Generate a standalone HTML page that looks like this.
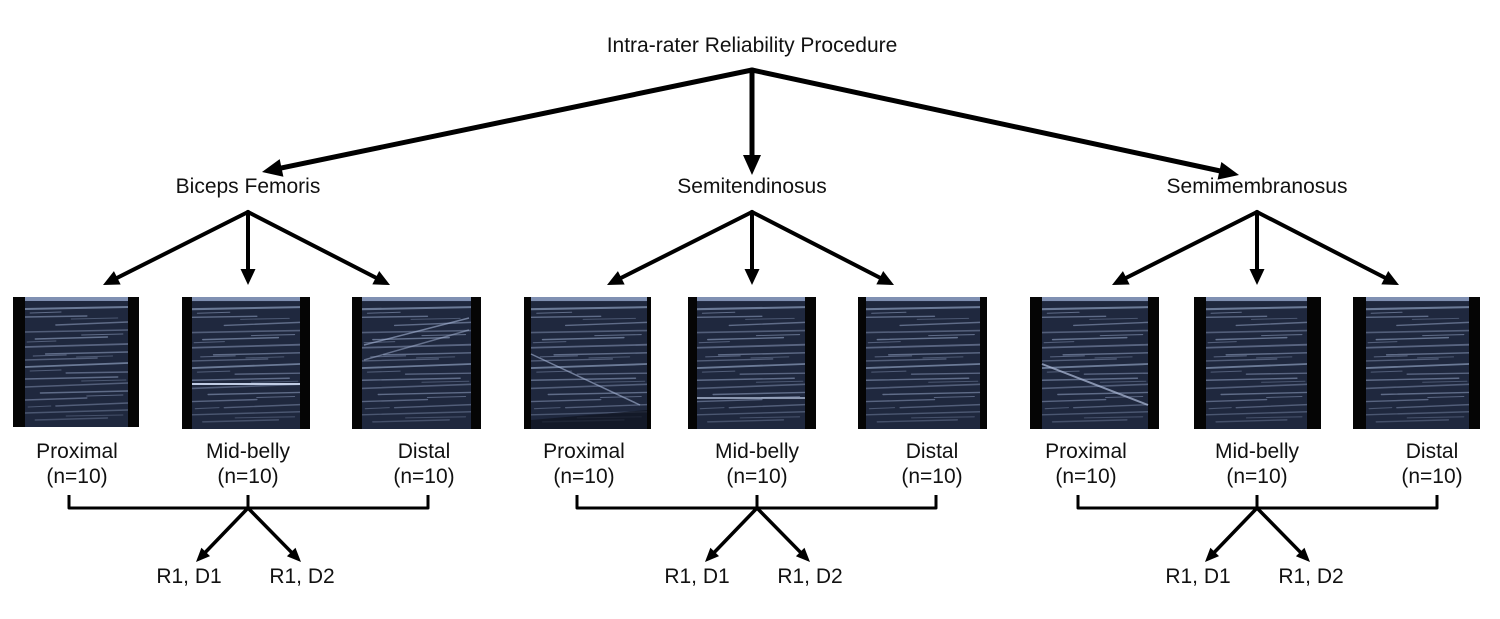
<!DOCTYPE html>
<html>
<head>
<meta charset="utf-8">
<style>
html,body{margin:0;padding:0;background:#fff;}
svg{display:block;}
text{font-family:"Liberation Sans",Arial,sans-serif;fill:#111;}
</style>
</head>
<body>
<svg width="1500" height="619" viewBox="0 0 1500 619" xmlns="http://www.w3.org/2000/svg">
<defs>
  <symbol id="tex" viewBox="0 0 100 130" preserveAspectRatio="none">
    <rect x="0" y="0" width="100" height="130" fill="#1f283e"/>
    <rect x="0" y="0" width="100" height="4" fill="#8090b2"/>
    <g stroke="#9fb0d2" stroke-linecap="round">
      <line x1="0" y1="12" x2="100" y2="10" stroke-opacity=".6" stroke-width="2"/>
      <line x1="0" y1="20" x2="60" y2="19" stroke-opacity=".5" stroke-width="1.4"/>
      <line x1="30" y1="28" x2="100" y2="25" stroke-opacity=".5" stroke-width="1.4"/>
      <line x1="0" y1="35" x2="100" y2="33" stroke-opacity=".4" stroke-width="1.6"/>
      <line x1="10" y1="42" x2="80" y2="40" stroke-opacity=".55" stroke-width="1.4"/>
      <line x1="0" y1="50" x2="100" y2="47" stroke-opacity=".45" stroke-width="1.8"/>
      <line x1="20" y1="57" x2="100" y2="55" stroke-opacity=".5" stroke-width="1.4"/>
      <line x1="0" y1="63" x2="70" y2="61" stroke-opacity=".4" stroke-width="1.4"/>
      <line x1="0" y1="70" x2="100" y2="66" stroke-opacity=".6" stroke-width="1.8"/>
      <line x1="40" y1="76" x2="100" y2="75" stroke-opacity=".45" stroke-width="1.4"/>
      <line x1="0" y1="82" x2="90" y2="80" stroke-opacity=".5" stroke-width="1.4"/>
      <line x1="0" y1="90" x2="100" y2="86" stroke-opacity=".4" stroke-width="1.6"/>
      <line x1="15" y1="96" x2="100" y2="94" stroke-opacity=".5" stroke-width="1.4"/>
      <line x1="0" y1="103" x2="60" y2="101" stroke-opacity=".45" stroke-width="1.4"/>
      <line x1="30" y1="109" x2="100" y2="106" stroke-opacity=".4" stroke-width="1.4"/>
      <line x1="0" y1="116" x2="100" y2="113" stroke-opacity=".35" stroke-width="1.4"/>
      <line x1="10" y1="123" x2="80" y2="121" stroke-opacity=".3" stroke-width="1.4"/>
      <line x1="5" y1="16" x2="35" y2="15" stroke-opacity=".5" stroke-width="1"/>
      <line x1="55" y1="38" x2="95" y2="37" stroke-opacity=".5" stroke-width="1"/>
      <line x1="8" y1="59" x2="40" y2="58" stroke-opacity=".45" stroke-width="1"/>
      <line x1="60" y1="99" x2="95" y2="98" stroke-opacity=".45" stroke-width="1"/>
      <line x1="45" y1="22" x2="90" y2="21" stroke-opacity=".35" stroke-width="1"/>
      <line x1="2" y1="45" x2="30" y2="44" stroke-opacity=".4" stroke-width="1"/>
      <line x1="50" y1="60" x2="85" y2="59" stroke-opacity=".35" stroke-width="1"/>
      <line x1="5" y1="74" x2="35" y2="73" stroke-opacity=".4" stroke-width="1"/>
      <line x1="55" y1="84" x2="98" y2="83" stroke-opacity=".35" stroke-width="1"/>
      <line x1="3" y1="110" x2="25" y2="109" stroke-opacity=".35" stroke-width="1"/>
      <line x1="40" y1="119" x2="95" y2="118" stroke-opacity=".3" stroke-width="1"/>
    </g>
  </symbol>
</defs>

<!-- Title -->
<text x="752" y="52" font-size="21" text-anchor="middle">Intra-rater Reliability Procedure</text>

<!-- Top arrows -->
<g stroke="#000" stroke-width="5" stroke-linecap="round" fill="none">
  <line x1="752" y1="70" x2="273.7" y2="169.6"/>
  <line x1="752" y1="70" x2="752" y2="163"/>
  <line x1="752" y1="70" x2="1227.3" y2="172.5"/>
</g>
<g fill="#000">
  <polygon points="262,172 283.4,176.7 279.7,159.1"/>
  <polygon points="752,175 743,155 761,155"/>
  <polygon points="1239,175 1221.35,161.98 1217.55,179.58"/>
</g>

<!-- Muscle names -->
<text x="248" y="193" font-size="21" text-anchor="middle">Biceps Femoris</text>
<text x="752" y="193" font-size="21" text-anchor="middle">Semitendinosus</text>
<text x="1257" y="193" font-size="21" text-anchor="middle">Semimembranosus</text>

<!-- Sub-arrow groups -->
<g transform="translate(248,0)">
  <g stroke="#000" stroke-width="4" stroke-linecap="round">
    <line x1="0" y1="212" x2="-136.07" y2="280.5"/>
    <line x1="0" y1="212" x2="0" y2="275"/>
    <line x1="0" y1="212" x2="133.11" y2="280.4"/>
  </g>
  <g fill="#000">
    <polygon points="-145,285 -127.34,284.5 -134.08,271.1"/>
    <polygon points="0,285 -7.5,269 7.5,269"/>
    <polygon points="142,285 131.2,271 124.34,284.4"/>
  </g>
</g>
<g transform="translate(752,0)">
  <g stroke="#000" stroke-width="4" stroke-linecap="round">
    <line x1="0" y1="212" x2="-136.07" y2="280.5"/>
    <line x1="0" y1="212" x2="0" y2="275"/>
    <line x1="0" y1="212" x2="133.11" y2="280.4"/>
  </g>
  <g fill="#000">
    <polygon points="-145,285 -127.34,284.5 -134.08,271.1"/>
    <polygon points="0,285 -7.5,269 7.5,269"/>
    <polygon points="142,285 131.2,271 124.34,284.4"/>
  </g>
</g>
<g transform="translate(1257,0)">
  <g stroke="#000" stroke-width="4" stroke-linecap="round">
    <line x1="0" y1="212" x2="-136.07" y2="280.5"/>
    <line x1="0" y1="212" x2="0" y2="275"/>
    <line x1="0" y1="212" x2="133.11" y2="280.4"/>
  </g>
  <g fill="#000">
    <polygon points="-145,285 -127.34,284.5 -134.08,271.1"/>
    <polygon points="0,285 -7.5,269 7.5,269"/>
    <polygon points="142,285 131.2,271 124.34,284.4"/>
  </g>
</g>

<!-- Ultrasound images -->
<!-- Group 1 -->
<rect x="13" y="297" width="126" height="130" fill="#050505"/>
<use href="#tex" x="25" y="297" width="103" height="130"/>
<rect x="182" y="297" width="128" height="132" fill="#050505"/>
<use href="#tex" x="192" y="297" width="108" height="132"/>
<line x1="192" y1="384" x2="300" y2="384" stroke="#c0cce4" stroke-width="2"/>
<rect x="352" y="297" width="129" height="132" fill="#050505"/>
<use href="#tex" x="362" y="297" width="109" height="132"/>
<line x1="364" y1="345" x2="469" y2="318" stroke="#a9b8d8" stroke-width="1.5" stroke-opacity=".6"/>
<line x1="364" y1="360" x2="469" y2="330" stroke="#a9b8d8" stroke-width="1.5" stroke-opacity=".5"/>

<!-- Group 2 -->
<rect x="524" y="297" width="127" height="132" fill="#050505"/>
<use href="#tex" x="531" y="297" width="116" height="132"/>
<line x1="531" y1="354" x2="640" y2="405" stroke="#a9b8d8" stroke-width="1.5" stroke-opacity=".6"/>
<polygon points="531,420 531,429 647,429 647,410" fill="#0e1220" fill-opacity=".7"/>
<rect x="688" y="297" width="128" height="132" fill="#050505"/>
<use href="#tex" x="697" y="297" width="108" height="132"/>
<line x1="697" y1="398" x2="805" y2="398" stroke="#b8c4de" stroke-width="2" stroke-opacity=".7"/>
<rect x="858" y="297" width="129" height="132" fill="#050505"/>
<use href="#tex" x="866" y="297" width="114" height="132"/>

<!-- Group 3 -->
<rect x="1030" y="297" width="129" height="132" fill="#050505"/>
<use href="#tex" x="1042" y="297" width="106" height="132"/>
<line x1="1042" y1="364" x2="1148" y2="405" stroke="#b0bedc" stroke-width="2" stroke-opacity=".7"/>
<rect x="1194" y="297" width="127" height="132" fill="#050505"/>
<use href="#tex" x="1206" y="297" width="101" height="132"/>
<rect x="1353" y="297" width="127" height="132" fill="#050505"/>
<use href="#tex" x="1366" y="297" width="103" height="132"/>

<!-- Position labels -->
<g font-size="21" text-anchor="middle">
  <text x="77" y="458">Proximal</text>
  <text x="248" y="458">Mid-belly</text>
  <text x="424" y="458">Distal</text>
  <text x="77" y="483">(n=10)</text>
  <text x="248" y="483">(n=10)</text>
  <text x="424" y="483">(n=10)</text>

  <text x="584" y="458">Proximal</text>
  <text x="757" y="458">Mid-belly</text>
  <text x="932" y="458">Distal</text>
  <text x="584" y="483">(n=10)</text>
  <text x="757" y="483">(n=10)</text>
  <text x="932" y="483">(n=10)</text>

  <text x="1086" y="458">Proximal</text>
  <text x="1257" y="458">Mid-belly</text>
  <text x="1432" y="458">Distal</text>
  <text x="1086" y="483">(n=10)</text>
  <text x="1257" y="483">(n=10)</text>
  <text x="1432" y="483">(n=10)</text>
</g>

<!-- Brackets -->
<g stroke="#000" stroke-width="3" fill="none" stroke-linejoin="round">
  <path d="M69,495 V508 H428 V495"/>
  <path d="M248,495 V508"/>
  <path d="M577,495 V508 H936 V495"/>
  <path d="M757,495 V508"/>
  <path d="M1078,495 V508 H1437 V495"/>
  <path d="M1257,495 V508"/>
</g>

<!-- Bottom arrows -->
<g transform="translate(248,0)">
  <g stroke="#000" stroke-width="3.5" stroke-linecap="round">
    <line x1="0" y1="508" x2="-46.45" y2="556.24"/>
    <line x1="0" y1="508" x2="47.4" y2="556.29"/>
  </g>
  <g fill="#000">
    <polygon points="-52,562 -37.97,556.08 -46.61,547.76"/>
    <polygon points="53,562 47.47,547.81 38.91,556.21"/>
  </g>
</g>
<g transform="translate(757,0)">
  <g stroke="#000" stroke-width="3.5" stroke-linecap="round">
    <line x1="0" y1="508" x2="-46.45" y2="556.24"/>
    <line x1="0" y1="508" x2="47.4" y2="556.29"/>
  </g>
  <g fill="#000">
    <polygon points="-52,562 -37.97,556.08 -46.61,547.76"/>
    <polygon points="53,562 47.47,547.81 38.91,556.21"/>
  </g>
</g>
<g transform="translate(1257,0)">
  <g stroke="#000" stroke-width="3.5" stroke-linecap="round">
    <line x1="0" y1="508" x2="-46.45" y2="556.24"/>
    <line x1="0" y1="508" x2="47.4" y2="556.29"/>
  </g>
  <g fill="#000">
    <polygon points="-52,562 -37.97,556.08 -46.61,547.76"/>
    <polygon points="53,562 47.47,547.81 38.91,556.21"/>
  </g>
</g>

<!-- Rater/day labels -->
<g font-size="21" text-anchor="middle">
  <text x="189" y="583">R1, D1</text>
  <text x="302" y="583">R1, D2</text>
  <text x="697" y="583">R1, D1</text>
  <text x="810" y="583">R1, D2</text>
  <text x="1198" y="583">R1, D1</text>
  <text x="1311" y="583">R1, D2</text>
</g>
</svg>
</body>
</html>
